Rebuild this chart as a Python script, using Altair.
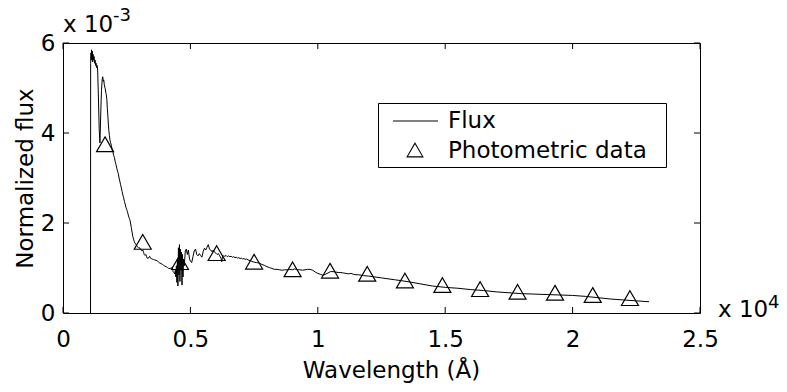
import altair as alt
import pandas as pd

# ---- data (flux in units of 1e-3) ----
wavelength = [1080, 1085, 1100, 1110, 1120, 1135, 1150, 1165, 1180, 1200, 1220, 1240, 1260, 1280,
              1300, 1320, 1340, 1360, 1390, 1420, 1450, 1480, 1510, 1540, 1560, 1580, 1600, 1620,
              1640, 1660, 1680, 1700, 1720, 1740, 1760, 1780, 1800, 1820, 1845, 1870, 1900, 1930,
              1960, 1990, 2020, 2050, 2080, 2110, 2140, 2170, 2200, 2230, 2260, 2290, 2320, 2350,
              2380, 2410, 2440, 2470, 2500, 2530, 2560, 2590, 2620, 2650, 2680, 2710, 2740, 2770,
              2800, 2830, 2860, 2890, 2920, 2950, 2980, 3010, 3040, 3070, 3100, 3130, 3160, 3190,
              3220, 3250, 3280, 3310, 3340, 3370, 3400, 3430, 3460, 3500, 3550, 3600, 3650, 3700,
              3750, 3800, 3850, 3900, 3950, 4000, 4050, 4100, 4150, 4200, 4250, 4290, 4320, 4350,
              4380, 4410, 4430, 4450, 4470, 4490, 4510, 4530, 4550, 4570, 4590, 4610, 4630, 4650,
              4670, 4690, 4710, 4730, 4760, 4800, 4840, 4880, 4920, 4960, 5000, 5050, 5100, 5150,
              5200, 5250, 5300, 5350, 5400, 5450, 5500, 5550, 5600, 5650, 5700, 5750, 5800, 5850,
              5900, 5950, 6000, 6050, 6100, 6150, 6200, 6230, 6260, 6300, 6350, 6400, 6450, 6500,
              6550, 6600, 6650, 6700, 6750, 6800, 6850, 6900, 6950, 7000, 7050, 7100, 7150, 7200,
              7300, 7400, 7500, 7600, 7700, 7800, 7900, 8000, 8100, 8200, 8300, 8400, 8500, 8600,
              8700, 8800, 8900, 9000, 9100, 9200, 9300, 9400, 9500, 9600, 9700, 9800, 9900, 10000,
              10100, 10200, 10300, 10400, 10500, 10600, 10700, 10800, 10900, 11000, 11100, 11200,
              11300, 11400, 11500, 11600, 11700, 11800, 12000, 12500, 13000, 13500, 14000, 14500,
              15000, 15500, 16000, 16500, 17000, 17500, 18000, 18500, 19000, 19500, 20000, 20500,
              21000, 21500, 22000, 22500, 23000]
flux = [0.0, 5.55, 5.78, 5.62, 5.85, 5.68, 5.82, 5.58, 5.75, 5.62, 5.70, 5.55, 5.62, 5.50,
        5.55, 5.45, 5.50, 5.40, 4.80, 4.10, 3.78, 4.40, 4.95, 5.20, 5.25, 5.15, 5.18, 5.08,
        5.02, 4.98, 4.90, 4.85, 4.75, 4.55, 4.38, 4.20, 4.05, 3.95, 3.84, 3.78, 3.72, 3.62,
        3.58, 3.50, 3.45, 3.36, 3.30, 3.22, 3.15, 3.10, 3.00, 2.93, 2.85, 2.78, 2.70, 2.62,
        2.56, 2.48, 2.42, 2.35, 2.30, 2.25, 2.18, 2.12, 2.08, 2.00, 1.90, 1.80, 1.70, 1.64,
        1.58, 1.55, 1.52, 1.50, 1.47, 1.46, 1.44, 1.45, 1.42, 1.40, 1.38, 1.40, 1.35, 1.30,
        1.28, 1.30, 1.25, 1.22, 1.21, 1.24, 1.26, 1.22, 1.21, 1.20, 1.19, 1.18, 1.17, 1.16,
        1.13, 1.11, 1.10, 1.08, 1.06, 1.04, 1.03, 1.01, 0.99, 0.99, 1.00, 1.02, 0.92, 0.90,
        0.87, 0.95, 0.80, 1.05, 0.68, 1.20, 0.60, 1.45, 0.85, 1.52, 0.70, 1.42, 0.95, 1.35,
        0.62, 1.30, 0.80, 1.20, 1.05, 1.38, 1.42, 1.30, 1.40, 1.22, 1.15, 1.12, 1.25, 1.38,
        1.42, 1.30, 1.27, 1.32, 1.28, 1.24, 1.36, 1.44, 1.40, 1.46, 1.52, 1.42, 1.40, 1.36,
        1.40, 1.35, 1.33, 1.30, 1.32, 1.27, 1.22, 1.14, 1.25, 1.27, 1.26, 1.28, 1.25, 1.27,
        1.25, 1.26, 1.24, 1.25, 1.23, 1.24, 1.22, 1.23, 1.21, 1.22, 1.20, 1.21, 1.19, 1.20,
        1.17, 1.15, 1.13, 1.12, 1.11, 1.08, 1.06, 1.03, 1.01, 0.99, 0.97, 0.97, 0.96, 0.95,
        0.96, 0.96, 0.97, 0.96, 0.98, 0.96, 0.96, 0.95, 0.96, 0.97, 0.97, 0.95, 0.91, 0.88,
        0.86, 0.84, 0.86, 0.89, 0.92, 0.92, 0.91, 0.90, 0.90, 0.89, 0.88, 0.87,
        0.88, 0.86, 0.85, 0.85, 0.84, 0.83, 0.82, 0.78, 0.74, 0.70, 0.65, 0.60,
        0.57, 0.55, 0.52, 0.50, 0.47, 0.45, 0.43, 0.42, 0.41, 0.40, 0.39, 0.37,
        0.34, 0.31, 0.29, 0.27, 0.25]

phot_wavelength = [1650, 3130, 4590, 6030, 7500, 9010, 10480, 11940, 13420, 14890,
                   16370, 17840, 19310, 20790, 22250]
phot_flux = [3.75, 1.58, 1.13, 1.33, 1.14, 0.97, 0.94, 0.87, 0.72, 0.62,
             0.53, 0.47, 0.45, 0.40, 0.33]

x_ticks = [0, 5000, 10000, 15000, 20000, 25000]
y_ticks = [0, 2, 4, 6]

series_names = ["Flux", "Photometric data"]
x_title = "Wavelength (Å)"
y_title = "Normalized flux"

W, H = 637, 270
FONT = "DejaVu Sans"
FS = 23
TRI = "M0,-0.866L1,0.866L-1,0.866Z"

spec_df = pd.DataFrame({"wl": wavelength, "flux": flux, "i": list(range(len(wavelength)))})
phot_df = pd.DataFrame({"wl": phot_wavelength, "flux": phot_flux})
xt_df = pd.DataFrame({"wl": x_ticks})
yt_df = pd.DataFrame({"flux": y_ticks})

xscale = alt.Scale(domain=[0, 25000], nice=False, zero=False)
yscale = alt.Scale(domain=[0, 6], nice=False)

xaxis = alt.Axis(values=x_ticks, labelExpr="format(datum.value / 10000, '~g')",
                 title=x_title, grid=False, ticks=False, tickSize=0, domain=False,
                 labelFont=FONT, labelFontSize=FS, labelColor="black", labelPadding=33,
                 labelBaseline="alphabetic", labelFlush=False, labelOverlap=False,
                 titleFont=FONT, titleFontSize=FS, titleFontWeight="normal", titleColor="black",
                 titleX=328, titleY=64, titleBaseline="alphabetic", titleAlign="center")
yaxis = alt.Axis(values=y_ticks, title=y_title, grid=False, ticks=False, tickSize=0, domain=False,
                 labelFont=FONT, labelFontSize=FS, labelColor="black", labelPadding=8,
                 labelAlign="right", labelBaseline="middle", labelFlush=False, labelOverlap=False,
                 titleFont=FONT, titleFontSize=FS, titleFontWeight="normal", titleColor="black",
                 titleAngle=270, titleX=-31, titleY=135, titleBaseline="alphabetic",
                 titleAlign="center")

line = alt.Chart(spec_df).mark_line(color="black", strokeWidth=1).encode(
    x=alt.X("wl:Q", scale=xscale, axis=xaxis),
    y=alt.Y("flux:Q", scale=yscale, axis=yaxis),
    order="i:Q",
)

points = alt.Chart(phot_df).mark_point(shape=TRI, size=289, filled=False, stroke="black",
                                       strokeWidth=1.2, opacity=1).encode(
    x="wl:Q", y="flux:Q")

tick_style = dict(color="black", strokeWidth=1)
xt_bottom = alt.Chart(xt_df).mark_rule(**tick_style).encode(
    x="wl:Q", y=alt.value(H), y2=alt.value(H - 6))
xt_top = alt.Chart(xt_df).mark_rule(**tick_style).encode(
    x="wl:Q", y=alt.value(0), y2=alt.value(6))
yt_left = alt.Chart(yt_df).mark_rule(**tick_style).encode(
    y="flux:Q", x=alt.value(0), x2=alt.value(6))
yt_right = alt.Chart(yt_df).mark_rule(**tick_style).encode(
    y="flux:Q", x=alt.value(W), x2=alt.value(W - 6))


def label(txt, x, y, size=FS):
    return alt.Chart(pd.DataFrame({"t": [txt]})).mark_text(
        align="left", baseline="alphabetic", font=FONT, fontSize=size, color="black"
    ).encode(text="t:N", x=alt.value(x), y=alt.value(y))


# scale multipliers
mult = [
    label("x 10", 0, -11.3),
    label("-3", 50, -22.5, 18),
    label("x 10", 655, 273.7),
    label("4", 705, 265, 18),
]

# legend
leg_box = alt.Chart(pd.DataFrame({"t": [0]})).mark_rect(
    fill="white", stroke="black", strokeWidth=1).encode(
    x=alt.value(315.5), x2=alt.value(603.5), y=alt.value(60.5), y2=alt.value(124.5))
leg_line = alt.Chart(pd.DataFrame({"t": [0]})).mark_rule(color="black", strokeWidth=1).encode(
    x=alt.value(330), x2=alt.value(375), y=alt.value(78))
leg_tri = alt.Chart(pd.DataFrame({"t": [0]})).mark_point(
    shape=TRI, size=250, filled=False, stroke="black", strokeWidth=1.1, opacity=1).encode(
    x=alt.value(352), y=alt.value(107))
leg_texts = [label(series_names[0], 385, 84.7), label(series_names[1], 385, 114.5)]

chart = alt.layer(
    line, points, xt_bottom, xt_top, yt_left, yt_right,
    *mult, leg_box, leg_line, leg_tri, *leg_texts
).properties(
    width=W, height=H,
    padding={"left": 63, "top": 43, "right": 87, "bottom": 79},
    autosize=alt.AutoSizeParams(type="none"),
    background="white",
).configure_view(stroke="black", strokeWidth=1)

chart.save("out.html", embed_options={"renderer": "svg", "actions": False})
